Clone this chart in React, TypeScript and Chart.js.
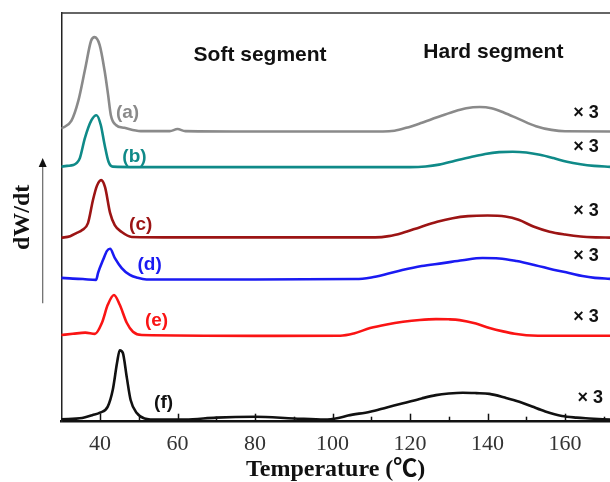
import React, { useEffect, useRef } from "react";
import { Chart, registerables } from "chart.js";

Chart.register(...registerables);

// ---- Data (temperature in °C, dW/dt in arbitrary offset units) ----
const aTemp = [30, 32.6, 34.4, 36.2, 37.7, 38.6, 39.9, 41.2, 42.1, 42.8, 44.1, 46.3, 50.5, 58, 60, 62, 80, 100, 113, 116, 119, 122.6, 127, 131, 134.5, 138, 141, 144.3, 148, 152.5, 156.5, 160, 171.6];
const aVal = [71.7, 73.6, 78.5, 86.5, 93.2, 94.1, 92.2, 85.8, 79.9, 75.0, 72.6, 71.9, 71.1, 71.1, 71.6, 71.1, 71.0, 71.0, 71.0, 71.2, 71.9, 73.0, 74.5, 75.8, 76.7, 77.0, 76.7, 75.6, 74.1, 72.3, 71.4, 71.05, 71.0];

const bTemp = [30, 31.5, 33.1, 34.0, 34.8, 36.1, 37.8, 39.1, 40.2, 41.2, 42.2, 43.3, 50, 80, 100, 120, 124, 127.5, 131.6, 135.5, 139.4, 143, 146.5, 150, 153.5, 157, 160.5, 164, 167.5, 171.6];
const bVal = [62.4, 62.6, 62.8, 63.3, 64.5, 69.4, 73.8, 75.0, 72.6, 67.7, 63.6, 62.4, 62.3, 62.3, 62.3, 62.3, 62.45, 62.9, 63.86, 64.7, 65.5, 65.95, 66.06, 65.85, 65.3, 64.5, 63.6, 63.0, 62.6, 62.35];

const cTemp = [30, 32.3, 34, 35.4, 36.9, 38.2, 39.2, 40.3, 41.3, 42.6, 43.8, 45.6, 48.2, 60, 80, 100, 111, 114.5, 118, 122.6, 127, 131, 135, 140, 144.6, 148, 152, 156, 160, 164, 168, 171.6];
const cVal = [45.0, 45.4, 46.2, 46.9, 48.6, 54.3, 57.7, 59.1, 57.4, 51.1, 48.1, 46.4, 45.2, 45.1, 45.1, 45.1, 45.1, 45.4, 46.2, 47.6, 48.9, 49.8, 50.3, 50.45, 50.2, 49.4, 47.7, 46.5, 45.8, 45.3, 45.1, 45.05];

const dTemp = [30, 33, 35.6, 39, 39.5, 40.8, 41.8, 42.6, 43.8, 45.6, 47.7, 49.7, 52, 80, 106, 110, 113.5, 118, 123, 128.5, 133.5, 138.7, 143, 147.5, 152.3, 157, 161, 164.5, 167.7, 171.6];
const dVal = [35.2, 35.0, 34.9, 34.7, 36.4, 39.6, 41.8, 42.3, 40.1, 37.6, 35.9, 35.2, 34.8, 34.8, 34.9, 35.3, 36.0, 37.1, 38.1, 38.8, 39.5, 40.05, 39.95, 39.3, 38.3, 37.2, 36.4, 35.65, 35.2, 34.95];

const eTemp = [30, 33, 36.2, 38.7, 40.5, 42, 43.6, 45.1, 46.9, 48.5, 50.8, 80, 102, 105.5, 109.7, 114, 118.2, 122.5, 126.7, 130, 132.8, 137, 140.5, 144, 147, 150, 153, 171.6];
const eVal = [21.2, 21.5, 21.8, 21.5, 24.2, 28.6, 31.0, 28.6, 24.2, 22.0, 21.2, 21.0, 21.04, 21.6, 22.9, 23.8, 24.45, 24.9, 25.1, 25.05, 24.85, 24.0, 22.95, 22.1, 21.5, 21.15, 21.04, 21.04];

const fTemp = [30, 35.4, 38, 40, 42, 43.3, 44.4, 45.1, 45.9, 46.9, 47.9, 49.5, 51.5, 55, 62, 70, 80, 90, 98, 101.5, 104, 109.7, 114, 118.2, 123, 126.7, 130, 133.6, 137, 140.5, 144.5, 148.2, 151.5, 154.9, 159.2, 163, 166.2, 171.6];
const fVal = [0.6, 0.9, 1.6, 2.2, 3.7, 7.8, 14.4, 17.5, 16.8, 10.9, 5.3, 2.1, 0.8, 0.5, 0.5, 1.0, 1.2, 0.8, 0.5, 0.9, 1.5, 2.45, 3.5, 4.5, 5.7, 6.5, 6.9, 7.1, 7.0, 6.8, 5.9, 4.9, 3.7, 2.5, 1.4, 1.0, 0.8, 0.5];

const xTickLabels = [40, 60, 80, 100, 120, 140, 160];
const seriesNames = ["(a)", "(b)", "(c)", "(d)", "(e)", "(f)"];
const seriesColors = ["#8a8a8a", "#0f8a88", "#9c1414", "#1a1af2", "#fa1414", "#111111"];
const scaleNote = "× 3";
const segmentTitles = ["Soft segment", "Hard segment"];
const xTitle = "Temperature (℃)";
const yTitle = "dW/dt";

// annotation anchors (data coordinates)
const nameAnchors = [
  [47.1, 75.5],
  [48.9, 64.8],
  [50.5, 48.1],
  [52.8, 38.3],
  [54.6, 24.6],
  [56.4, 4.6],
];
const noteAnchors = [
  [165.4, 75.5],
  [165.4, 67.2],
  [165.4, 51.6],
  [165.4, 40.5],
  [165.4, 25.6],
  [166.5, 5.8],
];
const segmentAnchors = [
  [81.3, 89.7],
  [141.5, 90.5],
];

const pairs = (t: number[], v: number[]) => t.map((x, i) => ({ x, y: v[i] }));

const SANS = '"Liberation Sans", Arial, sans-serif';
const SERIF = '"Liberation Serif", "Times New Roman", "Noto Sans CJK SC", serif';

const decorPlugin = {
  id: "decor",
  afterDatasetsDraw(chart: any) {
    const { ctx, chartArea, scales } = chart;
    const x = scales.x;
    const y = scales.y;
    ctx.save();
    // top frame line
    ctx.strokeStyle = "#333";
    ctx.lineWidth = 1.5;
    ctx.beginPath();
    ctx.moveTo(chartArea.left, chartArea.top);
    ctx.lineTo(chartArea.right, chartArea.top);
    ctx.stroke();
    // inward ticks
    ctx.strokeStyle = "#111";
    ctx.lineWidth = 1.5;
    for (let t = 40; t <= 170; t += 10) {
      const px = Math.round(x.getPixelForValue(t)) + 0.5;
      const len = t % 20 === 0 ? 8 : 5;
      ctx.beginPath();
      ctx.moveTo(px, chartArea.bottom);
      ctx.lineTo(px, chartArea.bottom - len);
      ctx.stroke();
    }
    // dW/dt arrow
    const ax = 42.7;
    const yTop = y.getPixelForValue(64.5);
    const yBot = y.getPixelForValue(29.0);
    ctx.strokeStyle = "#666";
    ctx.lineWidth = 1.2;
    ctx.beginPath();
    ctx.moveTo(ax, yBot);
    ctx.lineTo(ax, yTop + 6);
    ctx.stroke();
    ctx.fillStyle = "#111";
    ctx.beginPath();
    ctx.moveTo(ax, yTop);
    ctx.lineTo(ax - 4, yTop + 9);
    ctx.lineTo(ax + 4, yTop + 9);
    ctx.closePath();
    ctx.fill();
    // series names
    ctx.textAlign = "center";
    ctx.textBaseline = "middle";
    ctx.font = `bold 19px ${SANS}`;
    seriesNames.forEach((n, i) => {
      ctx.fillStyle = seriesColors[i];
      ctx.fillText(n, x.getPixelForValue(nameAnchors[i][0]), y.getPixelForValue(nameAnchors[i][1]));
    });
    // x3 notes
    ctx.fillStyle = "#111";
    ctx.font = `bold 18px ${SANS}`;
    noteAnchors.forEach((a) => {
      ctx.fillText(scaleNote, x.getPixelForValue(a[0]), y.getPixelForValue(a[1]));
    });
    // segment titles
    ctx.font = `bold 21px ${SANS}`;
    segmentTitles.forEach((s, i) => {
      ctx.fillText(s, x.getPixelForValue(segmentAnchors[i][0]), y.getPixelForValue(segmentAnchors[i][1]));
    });
    ctx.restore();
  },
};

export default function App() {
  const ref = useRef<HTMLCanvasElement | null>(null);
  useEffect(() => {
    if (!ref.current) return;
    const series = [
      [aTemp, aVal],
      [bTemp, bVal],
      [cTemp, cVal],
      [dTemp, dVal],
      [eTemp, eVal],
      [fTemp, fVal],
    ];
    const chart = new Chart(ref.current, {
      type: "line",
      data: {
        datasets: series.map((s, i) => ({
          label: seriesNames[i],
          data: pairs(s[0] as number[], s[1] as number[]),
          borderColor: seriesColors[i],
          borderWidth: 2.6,
          pointRadius: 0,
          fill: false,
          cubicInterpolationMode: "monotone" as const,
        })),
      },
      options: {
        responsive: false,
        animation: false,
        layout: { padding: { top: 13, right: 0, left: 0, bottom: 0 } },
        plugins: {
          legend: { display: false },
          tooltip: { enabled: false },
        },
        scales: {
          x: {
            type: "linear",
            min: 30,
            max: 171.6,
            grid: { display: false, drawTicks: true, tickLength: 9 },
            border: { display: true, color: "#111", width: 2.5 },
            ticks: {
              stepSize: 10,
              autoSkip: false,
              maxRotation: 0,
              padding: 0,
              color: "#333",
              font: { family: SERIF, size: 22 },
              callback: (v: any) => (xTickLabels.includes(Number(v)) ? String(v) : ""),
            },
            title: {
              display: true,
              text: xTitle,
              color: "#111",
              font: { family: SERIF, size: 24, weight: "bold", lineHeight: 1 },
              padding: { top: 0, bottom: 0 },
            },
            afterFit: (scale: any) => {
              scale.height = 60.3;
            },
          },
          y: {
            type: "linear",
            min: 0,
            max: 100,
            grid: { display: false, drawTicks: false },
            border: { display: true, color: "#222", width: 1.5 },
            ticks: { display: false },
            title: {
              display: true,
              text: yTitle,
              color: "#111",
              font: { family: SERIF, size: 24, weight: "bold", lineHeight: 1.2 },
              padding: { top: 8, bottom: 0 },
            },
            afterFit: (scale: any) => {
              scale.width = 61.25;
            },
          },
        },
      },
      plugins: [decorPlugin],
    } as any);
    return () => chart.destroy();
  }, []);
  return (
    <div style={{ position: "fixed", left: 0, top: 0, width: 610, height: 482, background: "#fff" }}>
      <canvas ref={ref} width={610} height={482} />
    </div>
  );
}
